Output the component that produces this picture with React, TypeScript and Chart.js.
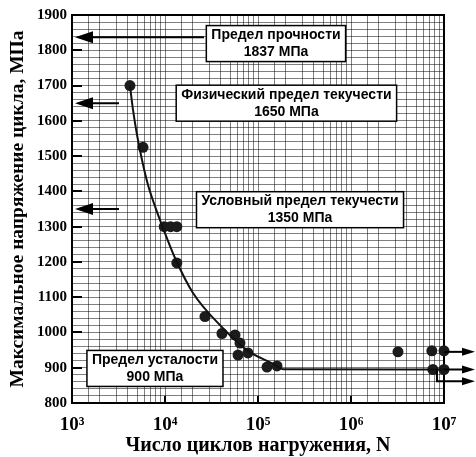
import React, { useEffect, useRef } from 'react';
import { Chart, registerables } from 'chart.js';

Chart.register(...registerables);

// Fitted S–N curve (cycles N, max stress MPa)
const curveN = [4200, 4530, 5000, 5660, 6570, 7800, 9520, 12810, 20000, 41000, 76000, 145000, 186000, 10000000];
const curveS = [1700, 1631, 1560, 1489, 1418, 1358, 1296, 1211, 1112, 1015, 950, 911, 896, 895];

// Test points
const pointN = [4200, 5800, 9800, 11500, 13400, 13400, 26900, 41000, 56600, 64000, 61000, 78000, 125000, 160000, 3200000, 7400000, 10000000, 7600000, 10000000];
const pointS = [1700, 1525, 1300, 1300, 1300, 1197, 1045, 997, 993, 970, 936, 942, 902, 905, 945, 948, 948, 895, 895];

// Axis ticks
const yMajorTicks = [800, 900, 1000, 1100, 1200, 1300, 1400, 1500, 1600, 1700, 1800, 1900];
const yMinorPerMajor = 5;
const xDecades = [1e3, 1e4, 1e5, 1e6, 1e7];
const xDecadeLabels = ['10³', '10⁴', '10⁵', '10⁶', '10⁷'];
const xMinorFactors = [1.5, 2, 3, 4, 5, 6, 7, 8, 9];

// Arrows at the stress axis (characteristic stresses)
const leftArrowS = [1837, 1650, 1350];
const leftArrowTailN = [26300, 3200, 3200];

// Run-out arrows on the right
const rightArrowS = [945, 895, 862];
const rightArrowStartN = [10000000, 10000000, 8400000];
const rightArrowStartS = [945, 895, 895];

// Annotation boxes
const boxTitles = ['Предел прочности', 'Физический предел текучести', 'Условный предел текучести', 'Предел усталости'];
const boxValues = ['1837 МПа', '1650 МПа', '1350 МПа', '900 МПа'];
const boxN = [156000, 202000, 283000, 7800];
const boxS = [1819, 1650, 1348, 898];

const SERIF = '"Liberation Serif", "Times New Roman", serif';
const SANS = '"Liberation Sans", Arial, sans-serif';

const yGridValues: number[] = [];
for (let i = 0; i < yMajorTicks.length; i++) {
  yGridValues.push(yMajorTicks[i]);
  if (i < yMajorTicks.length - 1) {
    const step = (yMajorTicks[i + 1] - yMajorTicks[i]) / yMinorPerMajor;
    for (let k = 1; k < yMinorPerMajor; k++) yGridValues.push(yMajorTicks[i] + k * step);
  }
}
const xGridValues: number[] = [];
for (let i = 0; i < xDecades.length; i++) {
  xGridValues.push(xDecades[i]);
  if (i < xDecades.length - 1) xMinorFactors.forEach((f) => xGridValues.push(f * xDecades[i]));
}

function head(ctx: CanvasRenderingContext2D, tipX: number, tipY: number, dir: number, len: number, half: number) {
  ctx.beginPath();
  ctx.moveTo(tipX, tipY);
  ctx.lineTo(tipX - dir * len, tipY - half);
  ctx.lineTo(tipX - dir * len, tipY + half);
  ctx.closePath();
  ctx.fill();
}

const decorPlugin = {
  id: 'decor',
  beforeDatasetsDraw(chart: any) {
    const { ctx, chartArea: a, scales } = chart;
    const x = scales.x;
    const y = scales.y;
    ctx.save();
    ctx.strokeStyle = '#000';
    ctx.lineWidth = 2;
    ctx.strokeRect(a.left, a.top, a.right - a.left, a.bottom - a.top);
    ctx.beginPath();
    yMajorTicks.forEach((v) => {
      const py = Math.round(y.getPixelForValue(v));
      ctx.moveTo(a.left, py);
      ctx.lineTo(a.left + 10, py);
    });
    xDecades.forEach((v) => {
      const px = Math.round(x.getPixelForValue(v));
      ctx.moveTo(px, a.bottom);
      ctx.lineTo(px, a.bottom - 7);
    });
    ctx.stroke();
    ctx.restore();
  },
  afterDatasetsDraw(chart: any) {
    const { ctx, chartArea: a, scales } = chart;
    const x = scales.x;
    const y = scales.y;
    ctx.save();
    ctx.strokeStyle = '#000';
    ctx.fillStyle = '#000';
    ctx.lineWidth = 2;
    // left arrows
    leftArrowS.forEach((s, i) => {
      const py = y.getPixelForValue(s);
      const tip = a.left + 3;
      const tail = x.getPixelForValue(leftArrowTailN[i]);
      ctx.beginPath();
      ctx.moveTo(tail, py);
      ctx.lineTo(tip + 10, py);
      ctx.stroke();
      head(ctx, tip, py, -1, 18, 6);
    });
    // right arrows
    rightArrowS.forEach((s, i) => {
      const py = y.getPixelForValue(s);
      const sx = x.getPixelForValue(rightArrowStartN[i]);
      const sy = y.getPixelForValue(rightArrowStartS[i]);
      const tip = a.right + 31;
      ctx.beginPath();
      ctx.moveTo(sx, sy);
      ctx.lineTo(sx, py);
      ctx.lineTo(tip - 8, py);
      ctx.stroke();
      head(ctx, tip, py, 1, 13, 4);
    });
    // boxes
    ctx.font = `bold 14px ${SANS}`;
    ctx.textAlign = 'center';
    ctx.textBaseline = 'middle';
    boxTitles.forEach((t, i) => {
      const cx = x.getPixelForValue(boxN[i]);
      const cy = y.getPixelForValue(boxS[i]);
      const w = Math.max(ctx.measureText(t).width, ctx.measureText(boxValues[i]).width) + 10;
      const h = 36;
      ctx.fillStyle = '#fff';
      ctx.fillRect(cx - w / 2, cy - h / 2, w, h);
      ctx.lineWidth = 1.5;
      ctx.strokeRect(cx - w / 2, cy - h / 2, w, h);
      ctx.fillStyle = '#000';
      ctx.fillText(t, cx, cy - 8.5);
      ctx.fillText(boxValues[i], cx, cy + 8.5);
    });
    ctx.restore();
  },
};

export default function App() {
  const ref = useRef<HTMLCanvasElement | null>(null);
  useEffect(() => {
    if (!ref.current) return;
    const gridColor = 'rgba(0,0,0,0.5)';
    const chart = new Chart(ref.current, {
      type: 'scatter',
      data: {
        datasets: [
          {
            type: 'line',
            data: curveN.map((n, i) => ({ x: n, y: curveS[i] })),
            borderColor: '#111',
            borderWidth: 2,
            pointRadius: 0,
            cubicInterpolationMode: 'monotone',
            fill: false,
          } as any,
          {
            data: pointN.map((n, i) => ({ x: n, y: pointS[i] })),
            backgroundColor: '#1b1b1b',
            borderWidth: 0,
            pointRadius: 5.5,
            clip: false,
          } as any,
        ],
      },
      options: {
        animation: false,
        responsive: false,
        layout: { padding: { left: 0, right: 32, top: 15, bottom: 0 } },
        plugins: { legend: { display: false }, tooltip: { enabled: false } },
        scales: {
          x: {
            type: 'logarithmic',
            min: 1000,
            max: 1e7,
            afterBuildTicks: (s: any) => {
              s.ticks = xGridValues.map((v) => ({ value: v }));
            },
            afterFit: (s: any) => {
              s.height = 54;
            },
            grid: { color: gridColor, lineWidth: 1, drawTicks: false },
            border: { display: false },
            ticks: {
              autoSkip: false,
              maxRotation: 0,
              padding: 11,
              color: '#000',
              font: { family: SERIF, size: 19, weight: 'bold' },
              callback: (v: any) => {
                const i = xDecades.findIndex((d) => Math.abs(d - Number(v)) < 1e-6 * d);
                return i >= 0 ? xDecadeLabels[i] : '';
              },
            },
            title: {
              display: true,
              text: 'Число циклов нагружения, N',
              color: '#000',
              font: { family: SERIF, size: 20, weight: 'bold' },
              padding: { top: 0, bottom: -1 },
            },
          },
          y: {
            type: 'linear',
            min: 800,
            max: 1900,
            afterBuildTicks: (s: any) => {
              s.ticks = yGridValues.map((v) => ({ value: v }));
            },
            afterFit: (s: any) => {
              s.width = 72;
            },
            grid: { color: gridColor, lineWidth: 1, drawTicks: false },
            border: { display: false },
            ticks: {
              autoSkip: false,
              padding: 5,
              color: '#000',
              font: { family: SERIF, size: 15, weight: 'bold' },
              callback: (v: any) => (yMajorTicks.includes(Number(v)) ? String(v) : ''),
            },
            title: {
              display: true,
              text: 'Максимальное напряжение цикла, МПа',
              color: '#000',
              font: { family: SERIF, size: 19.5, weight: 'bold' },
              padding: { top: 6, bottom: 0 },
            },
          },
        },
      } as any,
      plugins: [decorPlugin],
    });
    return () => chart.destroy();
  }, []);
  return (
    <div style={{ position: 'absolute', left: 0, top: 0, width: 476, height: 457, background: '#fff' }}>
      <canvas ref={ref} width={476} height={457} style={{ display: 'block' }} />
    </div>
  );
}
